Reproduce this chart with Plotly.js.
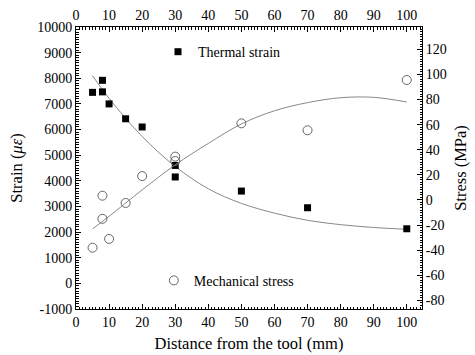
<!DOCTYPE html>
<html>
<head>
<meta charset="utf-8">
<script src="https://cdn.plot.ly/plotly-3.0.1.min.js"></script>
<style>html,body{margin:0;padding:0;background:#fff;}#chart{width:475px;height:355px;}</style>
</head>
<body>
<div id="chart"></div>
<script>
// Thermal strain (left axis, microstrain)
const thermalX = [5, 8, 8, 10, 15, 20, 30, 30, 50, 70, 100];
const thermalY = [7450, 7920, 7470, 7000, 6420, 6100, 4600, 4150, 3600, 2950, 2130];
// Mechanical stress (right axis, MPa)
const stressX = [5, 8, 8, 10, 15, 20, 30, 30, 50, 70, 100];
const stressY = [-38, 3.4, -15, -31, -2.4, 19, 34.5, 31, 61, 55.5, 95.5];
// Fitted curves
const fitX = [5, 10, 20, 30, 40, 50, 60, 70, 80, 90, 100];
const thermalFit = [8100, 7220, 5730, 4560, 3690, 3120, 2740, 2460, 2290, 2180, 2110];
const stressFit = [-23, -13, 8, 28, 45, 60.5, 71, 77.5, 81.4, 81.7, 78];
const xTicks = [0, 10, 20, 30, 40, 50, 60, 70, 80, 90, 100];
const strainTicks = [-1000, 0, 1000, 2000, 3000, 4000, 5000, 6000, 7000, 8000, 9000, 10000];
const stressTicks = [-80, -60, -40, -20, 0, 20, 40, 60, 80, 100, 120];

const fam = "'Liberation Serif', 'Times New Roman', Times, serif";
const font = {family: fam, color: '#000'};
const lineColor = '#888';

const traces = [
  {x: fitX, y: thermalFit, mode: 'lines', line: {color: lineColor, width: 1, shape: 'spline'}, showlegend: false, hoverinfo: 'skip'},
  {x: fitX, y: stressFit, xaxis: 'x2', yaxis: 'y2', mode: 'lines', line: {color: lineColor, width: 1, shape: 'spline'}, showlegend: false, hoverinfo: 'skip'},
  {x: thermalX, y: thermalY, mode: 'markers', name: 'Thermal strain', legend: 'legend',
   marker: {symbol: 'square', size: 7, color: '#000'}},
  {x: stressX, y: stressY, xaxis: 'x2', yaxis: 'y2', mode: 'markers', name: 'Mechanical stress', legend: 'legend2',
   marker: {symbol: 'circle-open', size: 9, color: '#666', line: {width: 1}}}
];

const xRange = [0, 104.6];
const tf = {family: fam, color: '#000', size: 14};
const axisCommon = {
  showline: true, linecolor: '#000', linewidth: 1, ticks: 'inside', ticklen: 5, tickcolor: '#000',
  showgrid: false, zeroline: false, tickfont: tf, fixedrange: true
};
const minorStyle = (d) => ({ticks: 'inside', dtick: d, ticklen: 2.5, tickcolor: '#000'});
const labels = (arr) => arr.map(v => String(v));

const layout = {
  width: 475, height: 355,
  margin: {l: 76, r: 53, t: 27, b: 46},
  paper_bgcolor: '#fff', plot_bgcolor: '#fff',
  font: font,
  xaxis: Object.assign({}, axisCommon, {
    range: xRange, tickmode: 'array', tickvals: xTicks, ticktext: labels(xTicks),
    minor: minorStyle(1),
    title: {text: 'Distance from the tool (mm)', font: {family: fam, color: '#000', size: 16.5}, standoff: 8}
  }),
  xaxis2: Object.assign({}, axisCommon, {
    range: xRange, overlaying: 'x', side: 'top', anchor: 'y2', tickmode: 'array', tickvals: xTicks, ticktext: labels(xTicks),
    minor: minorStyle(1)
  }),
  yaxis: Object.assign({}, axisCommon, {
    range: [-1000, 10000], tickmode: 'array', tickvals: strainTicks, ticktext: labels(strainTicks),
    minor: minorStyle(100),
    title: {text: 'Strain (<i>με</i>)', font: {family: fam, color: '#000', size: 16.5}, standoff: 10}
  }),
  yaxis2: Object.assign({}, axisCommon, {
    range: [-86.8, 137.7], overlaying: 'y', side: 'right', anchor: 'x2', tickmode: 'array', tickvals: stressTicks, ticktext: labels(stressTicks),
    minor: minorStyle(2),
    title: {text: 'Stress (MPa)', font: {family: fam, color: '#000', size: 16.5}, standoff: 8}
  }),
  legend: {x: 0.237, y: 0.911, xanchor: 'left', yanchor: 'middle', bgcolor: 'rgba(0,0,0,0)', font: tf},
  legend2: {x: 0.225, y: 0.1, xanchor: 'left', yanchor: 'middle', bgcolor: 'rgba(0,0,0,0)', font: tf}
};

Plotly.newPlot('chart', traces, layout, {staticPlot: true, displayModeBar: false});
</script>
</body>
</html>
